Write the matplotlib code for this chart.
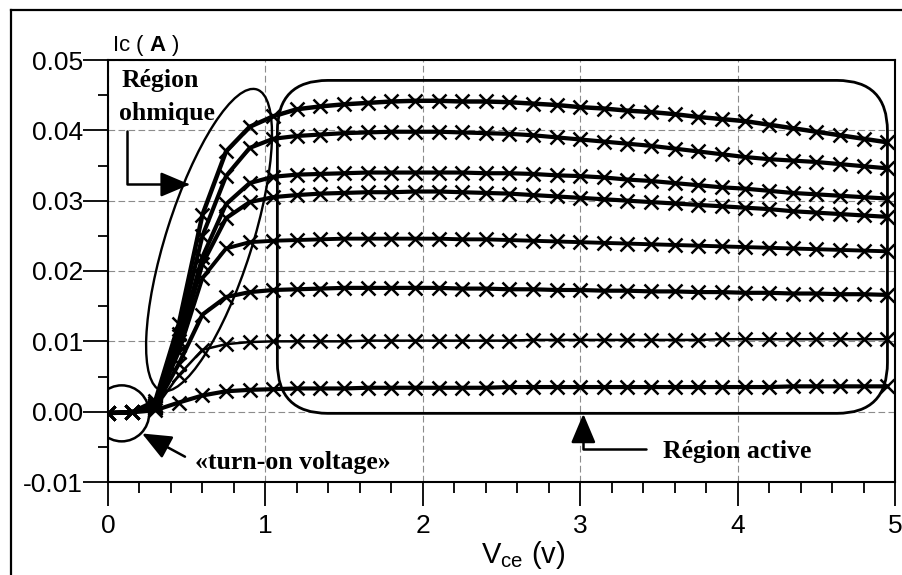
import matplotlib
matplotlib.use('Agg')
import matplotlib.pyplot as plt
from matplotlib import transforms
from matplotlib.patches import Ellipse, FancyBboxPatch
from matplotlib.lines import Line2D
from matplotlib.ticker import MultipleLocator, FormatStrFormatter

plt.rcParams['font.family'] = 'Liberation Sans'
plt.rcParams['mathtext.fontset'] = 'custom'
plt.rcParams['mathtext.rm'] = 'Liberation Sans'
plt.rcParams['mathtext.bf'] = 'Liberation Sans:bold'
plt.rcParams['mathtext.it'] = 'Liberation Sans:italic'

# Vce points (V) and collector current (A) for each base drive
vce = [0.00, 0.15, 0.30, 0.45, 0.60, 0.75, 0.90, 1.05, 1.20,
       1.35, 1.50, 1.65, 1.80, 1.95,
       2.10, 2.25, 2.40, 2.55, 2.70, 2.85,
       3.00, 3.15, 3.30, 3.45, 3.60, 3.75, 3.90,
       4.05, 4.20, 4.35, 4.50, 4.65, 4.80, 4.95]

ic_1 = [-0.0002, -0.0001, 0.0015, 0.0125, 0.0280, 0.0370, 0.0405, 0.0420, 0.0430,
        0.0434, 0.0437, 0.0439, 0.0441, 0.0442,
        0.0442, 0.0441, 0.0441, 0.0440, 0.0438, 0.0436,
        0.0433, 0.0431, 0.0428, 0.0426, 0.0423, 0.0419, 0.0416,
        0.0413, 0.0408, 0.0403, 0.0398, 0.0393, 0.0388, 0.0383]
ic_2 = [-0.0002, -0.0001, 0.0012, 0.0110, 0.0250, 0.0335, 0.0375, 0.0388, 0.0392,
        0.0394, 0.0396, 0.0397, 0.0398, 0.0398,
        0.0398, 0.0397, 0.0396, 0.0395, 0.0393, 0.0390,
        0.0387, 0.0384, 0.0381, 0.0378, 0.0374, 0.0370, 0.0366,
        0.0362, 0.0359, 0.0357, 0.0355, 0.0352, 0.0349, 0.0346]
ic_3 = [-0.0002, -0.0001, 0.0010, 0.0100, 0.0220, 0.0295, 0.0325, 0.0334, 0.0337,
        0.0338, 0.0339, 0.0340, 0.0340, 0.0340,
        0.0340, 0.0340, 0.0339, 0.0339, 0.0338, 0.0336,
        0.0335, 0.0333, 0.0330, 0.0328, 0.0325, 0.0322, 0.0319,
        0.0317, 0.0314, 0.0311, 0.0309, 0.0307, 0.0305, 0.0303]
ic_4 = [-0.0002, -0.0001, 0.0010, 0.0095, 0.0210, 0.0275, 0.0298, 0.0305, 0.0308,
        0.0310, 0.0311, 0.0312, 0.0312, 0.0313,
        0.0313, 0.0312, 0.0311, 0.0310, 0.0308, 0.0306,
        0.0304, 0.0302, 0.0300, 0.0298, 0.0296, 0.0294, 0.0292,
        0.0290, 0.0288, 0.0285, 0.0283, 0.0281, 0.0279, 0.0277]
ic_5 = [-0.0002, -0.0001, 0.0008, 0.0085, 0.0190, 0.0232, 0.0241, 0.0243, 0.0244,
        0.0245, 0.0246, 0.0246, 0.0246, 0.0246,
        0.0246, 0.0245, 0.0245, 0.0244, 0.0243, 0.0242,
        0.0241, 0.0240, 0.0239, 0.0238, 0.0237, 0.0236, 0.0235,
        0.0234, 0.0233, 0.0232, 0.0231, 0.0230, 0.0229, 0.0228]
ic_6 = [-0.0002, -0.0001, 0.0007, 0.0068, 0.0138, 0.0163, 0.0170, 0.0173, 0.0174,
        0.0175, 0.0176, 0.0176, 0.0176, 0.0176,
        0.0176, 0.0175, 0.0175, 0.0174, 0.0174, 0.0173,
        0.0173, 0.0172, 0.0172, 0.0171, 0.0171, 0.0170, 0.0170,
        0.0169, 0.0169, 0.0168, 0.0168, 0.0167, 0.0167, 0.0166]
ic_7 = [-0.0002, -0.0001, 0.0005, 0.0052, 0.0088, 0.0096, 0.0099, 0.0100, 0.0100,
        0.0100, 0.0100, 0.0101, 0.0101, 0.0101,
        0.0101, 0.0101, 0.0101, 0.0101, 0.0102, 0.0102,
        0.0102, 0.0102, 0.0102, 0.0102, 0.0102, 0.0102, 0.0103,
        0.0103, 0.0103, 0.0103, 0.0103, 0.0103, 0.0103, 0.0103]
ic_8 = [-0.0002, -0.0001, 0.0002, 0.0013, 0.0023, 0.0029, 0.0031, 0.0032, 0.0033,
        0.0033, 0.0033, 0.0034, 0.0034, 0.0034,
        0.0034, 0.0034, 0.0034, 0.0035, 0.0035, 0.0035,
        0.0035, 0.0035, 0.0035, 0.0035, 0.0035, 0.0035, 0.0035,
        0.0035, 0.0035, 0.0036, 0.0036, 0.0036, 0.0036, 0.0036]

curves = [ic_1, ic_2, ic_3, ic_4, ic_5, ic_6, ic_7, ic_8]
widths = [3.2, 3.0, 3.0, 3.0, 2.8, 3.0, 1.8, 3.0]

W, H = 902, 575
fig = plt.figure(figsize=(W / 100, H / 100), dpi=100)
ax = fig.add_axes([108 / W, (H - 482) / H, 787 / W, 422 / H])

for ic, lw in zip(curves, widths):
    ax.plot(vce, ic, color='black', lw=lw, marker='x', ms=9.5, mew=1.8,
            solid_joinstyle='round', zorder=3)

ax.set_xlim(0, 5)
ax.set_ylim(-0.01, 0.05)
ax.xaxis.set_major_locator(MultipleLocator(1))
ax.xaxis.set_minor_locator(MultipleLocator(0.2))
ax.yaxis.set_major_locator(MultipleLocator(0.01))
ax.yaxis.set_minor_locator(MultipleLocator(0.005))
ax.yaxis.set_major_formatter(FormatStrFormatter('%.2f'))
ax.tick_params(axis='x', which='major', direction='out', length=17, width=1.3,
               pad=6, labelsize=19)
ax.tick_params(axis='x', which='minor', direction='out', length=8, width=1.3)
ax.tick_params(axis='y', which='major', direction='out', length=18, width=1.3,
               pad=0, labelsize=19)
ax.tick_params(axis='y', which='minor', direction='out', length=7, width=1.3)
ax.grid(which='major', color='#8c8c8c', lw=0.8, ls=(0, (6, 3)), zorder=0)
for s in ax.spines.values():
    s.set_linewidth(1.5)

ax.set_xlabel(r'V$_{\rm ce}$ (v)', fontsize=21)
ax.xaxis.set_label_coords(0.527, -0.135)
ax.text(0.025, 0.0513, r'Ic ( $\mathbf{A}$ )', fontsize=16, va='baseline',
        clip_on=False)

# outline annotations
ohm = Ellipse((0, 0), 3.16, 0.86, angle=72.4, fill=False, lw=1.7, color='black',
              transform=fig.dpi_scale_trans + transforms.ScaledTranslation(0.642, 0.0244, ax.transData),
              zorder=4)
ax.add_patch(ohm)
turn_on = Ellipse((0, 0), 0.55, 0.56, fill=False, lw=1.8, color='black',
                  transform=fig.dpi_scale_trans + transforms.ScaledTranslation(0.087, -0.00024, ax.transData),
                  zorder=4)
ax.add_patch(turn_on)
active = FancyBboxPatch((1.076, -0.00024), 4.952 - 1.076, 0.0471 + 0.00024,
                        boxstyle='round,pad=0,rounding_size=0.32',
                        mutation_aspect=0.0225, fill=False, lw=2.0,
                        color='black', zorder=4)
ax.add_patch(active)

serif = dict(family='Liberation Serif', weight='bold', fontsize=18.5, va='baseline')
ax.text(0.089, 0.0461, 'Région', **serif)
ax.text(0.070, 0.0414, 'ohmique', **serif)
ax.text(0.552, -0.0081, '«turn-on voltage»', **serif)
ax.text(3.524, -0.0066, 'Région active', **serif)

arrow = dict(arrowstyle='-|>,head_length=0.9,head_width=0.38', color='black',
             lw=1.8, shrinkA=0, shrinkB=0, mutation_scale=20)
ax.annotate('', xy=(0.52, 0.0323), xytext=(0.12, 0.0399),
            arrowprops=dict(connectionstyle='angle,angleA=90,angleB=0,rad=0', **arrow))
ax.annotate('', xy=(0.216, -0.0031), xytext=(0.489, -0.0064),
            arrowprops=arrow)
ax.annotate('', xy=(3.02, -0.0003), xytext=(3.42, -0.0053),
            arrowprops=dict(connectionstyle='angle,angleA=0,angleB=90,rad=0', **arrow))

# page frame on the left and top
fig.add_artist(Line2D([11 / W, 11 / W], [0, 1 - 10 / H], transform=fig.transFigure,
                      color='black', lw=1.6))
fig.add_artist(Line2D([11 / W, 1], [1 - 10 / H, 1 - 10 / H], transform=fig.transFigure,
                      color='black', lw=1.6))

fig.savefig('out.png', dpi=100)
